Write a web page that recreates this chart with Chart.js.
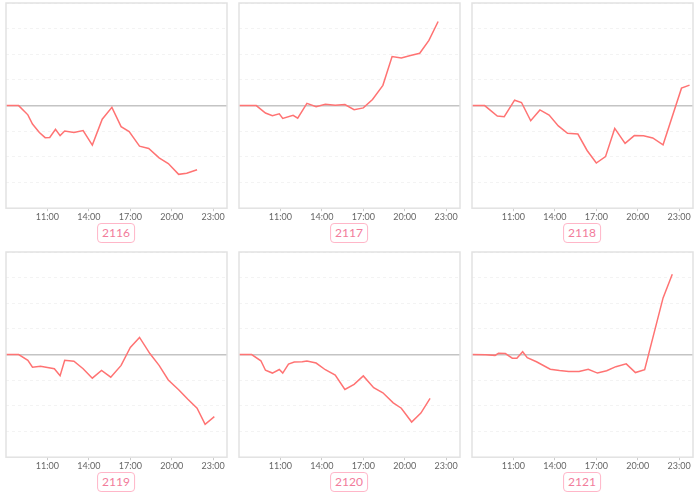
<!DOCTYPE html>
<html>
<head>
<meta charset="utf-8">
<script src="https://cdn.jsdelivr.net/npm/chart.js@4.4.0/dist/chart.umd.min.js"></script>
<style>
body { margin: 0; background: #fff; width: 700px; height: 499px; overflow: hidden; position: relative; font-family: Lato, sans-serif; }
.panel { position: absolute; width: 225px; height: 223px; }
.tag { position: absolute; font-size: 12px; color: #f27b9b; border: 1.5px solid #ffb6c8; border-radius: 4px; padding: 1px 4px; line-height: 16px; transform: translateX(-50%); background: #fff; }
</style>
</head>
<body>
<script>
// x tick labels (hours)
var tickHours = [11, 14, 17, 20, 23];
var names = ["2116", "2117", "2118", "2119", "2120", "2121"];

var times2116 = ["08:00","08:55","09:35","09:55","10:25","10:50","11:10","11:35","11:55","12:15","12:55","13:35","14:15","14:58","15:40","16:20","16:55","17:40","18:20","19:05","19:45","20:30","21:05","21:50"];
var values2116 = [0,0,-0.36,-0.72,-1.05,-1.25,-1.24,-0.92,-1.17,-0.99,-1.05,-0.97,-1.54,-0.53,-0.07,-0.82,-1.01,-1.58,-1.67,-2.04,-2.26,-2.68,-2.64,-2.5];

var times2117 = ["08:00","09:15","09:55","10:25","10:55","11:10","11:55","12:15","12:55","13:35","14:15","14:58","15:40","16:20","17:00","17:40","18:25","19:05","19:45","20:25","21:05","21:45","22:25"];
var values2117 = [0,0,-0.29,-0.39,-0.32,-0.5,-0.38,-0.49,0.09,-0.04,0.05,0.01,0.04,-0.16,-0.09,0.24,0.79,1.91,1.86,1.95,2.04,2.54,3.28];

var times2118 = ["08:00","08:55","09:50","10:20","11:05","11:35","12:15","12:55","13:35","14:15","14:55","15:40","16:20","17:00","17:40","18:20","19:05","19:45","20:25","21:05","21:50","23:10","23:45"];
var values2118 = [0,0,-0.41,-0.43,0.21,0.12,-0.59,-0.17,-0.37,-0.79,-1.08,-1.11,-1.75,-2.24,-1.99,-0.89,-1.47,-1.17,-1.18,-1.26,-1.53,0.68,0.8];

var times2119 = ["08:00","08:55","09:35","09:55","10:30","11:00","11:30","11:55","12:15","12:55","13:35","14:15","14:55","15:35","16:20","17:00","17:40","18:25","19:05","19:45","20:30","21:10","21:50","22:25","23:05"];
var values2119 = [0,0,-0.22,-0.49,-0.45,-0.5,-0.55,-0.82,-0.22,-0.26,-0.55,-0.92,-0.62,-0.88,-0.42,0.28,0.67,0.04,-0.42,-0.99,-1.37,-1.74,-2.09,-2.72,-2.42];

var times2120 = ["08:00","08:55","09:35","09:55","10:25","10:55","11:10","11:35","12:00","12:35","12:55","13:35","14:15","14:58","15:40","16:20","17:00","17:45","18:25","19:10","19:45","20:30","21:10","21:50"];
var values2120 = [0,0,-0.24,-0.61,-0.72,-0.58,-0.72,-0.37,-0.29,-0.28,-0.25,-0.33,-0.59,-0.8,-1.36,-1.16,-0.83,-1.29,-1.49,-1.88,-2.09,-2.63,-2.28,-1.71];

var times2121 = ["08:00","09:00","09:40","09:55","10:25","10:55","11:15","11:40","12:00","12:40","13:40","14:20","15:00","15:45","16:25","17:05","17:45","18:25","19:10","19:50","20:30","21:50","22:30"];
var values2121 = [0,-0.01,-0.03,0.05,0.04,-0.14,-0.14,0.11,-0.12,-0.28,-0.57,-0.62,-0.66,-0.66,-0.57,-0.72,-0.63,-0.47,-0.36,-0.7,-0.59,2.21,3.13];

var allTimes = [times2116, times2117, times2118, times2119, times2120, times2121];
var allValues = [values2116, values2117, values2118, values2119, values2120, values2121];

// panel placement (chart area top-left)
var colX = [6, 239, 472];
var rowY = [3, 252];

function toHours(t) {
    var p = t.split(":");
    return parseInt(p[0]) + parseInt(p[1]) / 60;
}

var boxPlugin = {
    id: 'box',
    afterDraw: function(chart) {
        var a = chart.chartArea;
        var ctx = chart.ctx;
        ctx.save();
        ctx.strokeStyle = '#e2e2e2';
        ctx.lineWidth = 1.5;
        ctx.strokeRect(a.left, a.top, a.right - a.left, a.bottom - a.top);
        ctx.restore();
    }
};

for (var i = 0; i < 6; i++) {
    var col = i % 3, row = Math.floor(i / 3);
    var div = document.createElement("div");
    div.className = "panel";
    div.style.left = (colX[col] - 2) + "px";
    div.style.top = (rowY[row] - 2) + "px";
    var cv = document.createElement("canvas");
    div.appendChild(cv);
    document.body.appendChild(div);

    var tag = document.createElement("div");
    tag.className = "tag";
    tag.textContent = names[i];
    tag.style.left = (colX[col] + 110) + "px";
    tag.style.top = (rowY[row] + 220) + "px";
    document.body.appendChild(tag);

    var pts = allTimes[i].map(function(t, k) { return {x: toHours(t), y: allValues[i][k]}; });

    new Chart(cv.getContext('2d'), {
        type: 'line',
        data: {
            datasets: [{
                data: pts,
                borderColor: '#ff7373',
                borderWidth: 1.5,
                pointRadius: 0,
                tension: 0,
                fill: false
            }]
        },
        options: {
            responsive: true,
            maintainAspectRatio: false,
            animation: false,
            layout: { padding: { left: 2, right: 2, top: 2, bottom: 2 } },
            plugins: { legend: { display: false }, tooltip: { enabled: false } },
            scales: {
                x: {
                    type: 'linear',
                    min: 8,
                    max: 24,
                    afterBuildTicks: function(axis) {
                        axis.ticks = tickHours.map(function(h) { return {value: h}; });
                    },
                    ticks: {
                        autoSkip: false,
                        maxRotation: 0,
                        padding: 0,
                        color: '#666',
                        font: { family: 'Lato', size: 9 },
                        callback: function(v) { return (v < 10 ? "0" : "") + v + ":00"; }
                    },
                    grid: { drawOnChartArea: false, drawTicks: true, tickLength: 3, color: '#cccccc' },
                    border: { display: false }
                },
                y: {
                    min: -4,
                    max: 4,
                    ticks: { display: false, stepSize: 1 },
                    grid: {
                        drawTicks: false,
                        color: function(c) { return c.tick && c.tick.value === 0 ? '#c4c4c4' : '#f3f3f3'; },
                        lineWidth: function(c) { return c.tick && c.tick.value === 0 ? 1.5 : 1; }
                    },
                    border: {
                        display: false,
                        dash: function(c) { return c.tick && c.tick.value === 0 ? [] : [3, 3]; }
                    }
                }
            }
        },
        plugins: [boxPlugin]
    });
}
</script>
</body>
</html>
